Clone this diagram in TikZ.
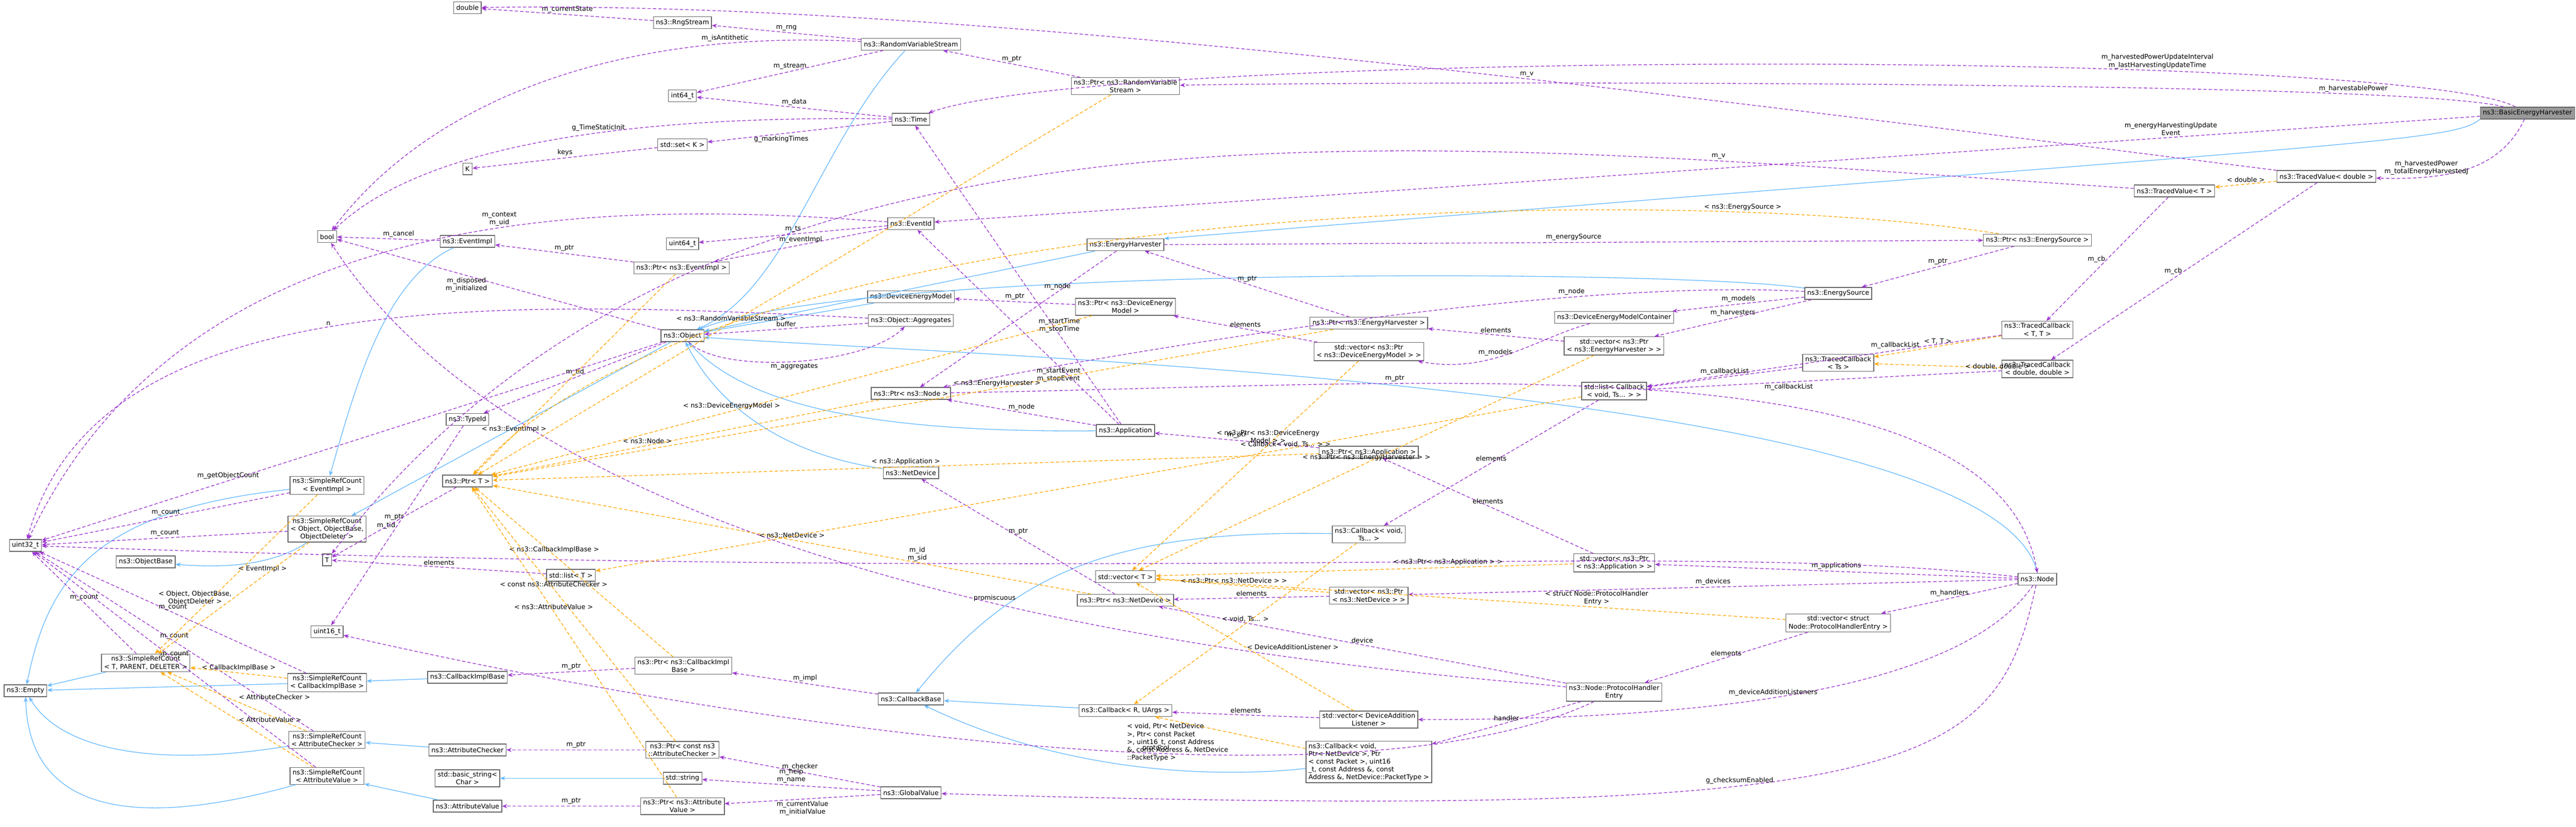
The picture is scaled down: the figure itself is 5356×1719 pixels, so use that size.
\documentclass[tikz,border=0pt]{standalone}
\usepackage{fontspec}
\setmainfont{DejaVu Sans}
\usetikzlibrary{arrows.meta}
\definecolor{usecol}{RGB}{154,50,205}
\definecolor{tplcol}{RGB}{255,165,0}
\definecolor{inhcol}{RGB}{99,184,255}
\tikzset{
  cls/.style={draw=black!60, rectangle, fill=white, inner xsep=1.5pt, inner ysep=1.2pt,
    minimum height=7pt, align=center, font=\fontsize{3.9}{4.6}\selectfont},
  use/.style={draw=usecol, dashed, dash pattern=on 2pt off 1.2pt, thin, -{Stealth[length=3pt,width=2.4pt,fill=usecol]}},
  tpl/.style={draw=tplcol, dashed, dash pattern=on 2pt off 1.2pt, thin, -{Stealth[length=3pt,width=2.4pt,fill=tplcol]}},
  inh/.style={draw=inhcol, thin, -{Stealth[length=3pt,width=2.4pt,fill=inhcol]}},
  lbl/.style={midway, align=center, font=\fontsize{3.9}{4.6}\selectfont, inner sep=1pt}
}
\begin{document}
\begin{tikzpicture}[x=0.01cm,y=-0.01cm]
\useasboundingbox (0,0) rectangle (5356,1719);
% classes
\node[cls, fill=black!40] (beh) at (5255,235) {ns3::BasicEnergyHarvester};
\node[cls] (dbl) at (972,16) {double};
\node[cls] (bool) at (680,492) {bool};
\node[cls] (evimpl) at (972,502) {ns3::EventImpl};
\node[cls] (K) at (972,351) {K};
\node[cls] (typeid) at (972,872) {ns3::TypeId};
\node[cls] (ptrT) at (972,1000) {ns3::Ptr< T >};
\node[cls] (srcEv) at (680,1009) {ns3::SimpleRefCount\\< EventImpl >};
\node[cls] (srcObj) at (680,1100) {ns3::SimpleRefCount\\< Object, ObjectBase,\\ObjectDeleter >};
\node[cls] (uint32) at (53,1134) {uint32\_t};
\node[cls] (objbase) at (303,1168) {ns3::ObjectBase};
\node[cls] (T) at (680,1164) {T};
\node[cls] (listT) at (1187,1196) {std::list< T >};
\node[cls] (uint16) at (680,1313) {uint16\_t};
\node[cls] (srcTPD) at (303,1378) {ns3::SimpleRefCount\\< T, PARENT, DELETER >};
\node[cls] (srcCIB) at (680,1419) {ns3::SimpleRefCount\\< CallbackImplBase >};
\node[cls] (cib) at (972,1408) {ns3::CallbackImplBase};
\node[cls] (empty) at (53,1436) {ns3::Empty};
\node[cls] (srcAC) at (680,1538) {ns3::SimpleRefCount\\< AttributeChecker >};
\node[cls] (ac) at (972,1559) {ns3::AttributeChecker};
\node[cls] (bstr) at (972,1618) {std::basic\_string<\\Char >};
\node[cls] (srcAV) at (680,1613) {ns3::SimpleRefCount\\< AttributeValue >};
\node[cls] (av) at (972,1676) {ns3::AttributeValue};
\node[cls] (rng) at (1419,47) {ns3::RngStream};
\node[cls] (rvs) at (1894,92) {ns3::RandomVariableStream};
\node[cls] (int64) at (1419,199) {int64\_t};
\node[cls] (prvs) at (2340,179) {ns3::Ptr< ns3::RandomVariable\\Stream >};
\node[cls] (time) at (1894,248) {ns3::Time};
\node[cls] (setK) at (1419,301) {std::set< K >};
\node[cls] (evid) at (1894,465) {ns3::EventId};
\node[cls] (uint64) at (1419,507) {uint64\_t};
\node[cls] (pevimpl) at (1417,557) {ns3::Ptr< ns3::EventImpl >};
\node[cls] (eh) at (2340,509) {ns3::EnergyHarvester};
\node[cls] (dem) at (1894,617) {ns3::DeviceEnergyModel};
\node[cls] (pdem) at (2340,638) {ns3::Ptr< ns3::DeviceEnergy\\Model >};
\node[cls] (aggr) at (1894,666) {ns3::Object::Aggregates};
\node[cls] (obj) at (1419,698) {ns3::Object};
\node[cls] (pnode) at (1894,818) {ns3::Ptr< ns3::Node >};
\node[cls] (app) at (2340,895) {ns3::Application};
\node[cls] (netdev) at (1894,983) {ns3::NetDevice};
\node[cls] (vecT) at (2340,1199) {std::vector< T >};
\node[cls] (pnetdev) at (2340,1248) {ns3::Ptr< ns3::NetDevice >};
\node[cls] (pcib) at (1421,1384) {ns3::Ptr< ns3::CallbackImpl\\Base >};
\node[cls] (cbbase) at (1894,1453) {ns3::CallbackBase};
\node[cls] (cbRU) at (2340,1477) {ns3::Callback< R, UArgs >};
\node[cls] (pac) at (1419,1559) {ns3::Ptr< const ns3\\::AttributeChecker >};
\node[cls] (str) at (1419,1618) {std::string};
\node[cls] (gv) at (1894,1648) {ns3::GlobalValue};
\node[cls] (pav) at (1419,1676) {ns3::Ptr< ns3::Attribute\\Value >};
\node[cls] (esrc) at (3822,610) {ns3::EnergySource};
\node[cls] (demc) at (3356,660) {ns3::DeviceEnergyModelContainer};
\node[cls] (peh) at (2846,672) {ns3::Ptr< ns3::EnergyHarvester >};
\node[cls] (veh) at (3356,719) {std::vector< ns3::Ptr\\< ns3::EnergyHarvester > >};
\node[cls] (vdem) at (2846,731) {std::vector< ns3::Ptr\\< ns3::DeviceEnergyModel > >};
\node[cls] (tcTs) at (3822,754) {ns3::TracedCallback\\< Ts >};
\node[cls] (lcb) at (3356,813) {std::list< Callback\\< void, Ts... > >};
\node[cls] (papp) at (2846,940) {ns3::Ptr< ns3::Application >};
\node[cls] (cbvoid) at (2846,1111) {ns3::Callback< void,\\Ts... >};
\node[cls] (vapp) at (3356,1170) {std::vector< ns3::Ptr\\< ns3::Application > >};
\node[cls] (vnd) at (2846,1238) {std::vector< ns3::Ptr\\< ns3::NetDevice > >};
\node[cls] (vphe) at (3822,1295) {std::vector< struct\\Node::ProtocolHandlerEntry >};
\node[cls] (phe) at (3356,1439) {ns3::Node::ProtocolHandler\\Entry};
\node[cls] (vdal) at (2846,1496) {std::vector< DeviceAddition\\Listener >};
\node[cls, align=left] (cbnd) at (2846,1584) {ns3::Callback< void,\\ Ptr< NetDevice >, Ptr\\< const Packet >, uint16\\\_t, const Address \&, const\\ Address \&, NetDevice::PacketType >};
\node[cls] (tvd) at (4837,367) {ns3::TracedValue< double >};
\node[cls] (tvT) at (4521,397) {ns3::TracedValue< T >};
\node[cls] (pes) at (4236,499) {ns3::Ptr< ns3::EnergySource >};
\node[cls] (tcTT) at (4236,686) {ns3::TracedCallback\\< T, T >};
\node[cls] (tcdd) at (4236,767) {ns3::TracedCallback\\< double, double >};
\node[cls] (node) at (4236,1204) {ns3::Node};
% inheritance
\draw[inh] (beh.south west) .. controls (5100,296) and (4900,296) .. (eh.north east);
\draw[inh] (eh) -- (obj);
\draw[inh] (rvs) .. controls (1700,300) and (1640,600) .. (obj);
\draw[inh] (dem) -- (obj);
\draw[inh] (esrc) .. controls (3500,560) and (1800,550) .. (obj);
\draw[inh] (app) .. controls (1800,900) and (1550,840) .. (obj);
\draw[inh] (netdev) .. controls (1600,940) and (1480,820) .. (obj);
\draw[inh] (node.north) .. controls (4150,800) and (2000,740) .. (obj);
\draw[inh] (obj) -- (srcObj);
\draw[inh] (srcObj) .. controls (560,1180) and (450,1180) .. (objbase);
\draw[inh] (evimpl) .. controls (800,580) and (740,800) .. (srcEv);
\draw[inh] (srcEv) .. controls (200,1060) and (100,1200) .. (empty);
\draw[inh] (srcTPD) -- (empty);
\draw[inh] (srcCIB) -- (empty);
\draw[inh] (cib) -- (srcCIB);
\draw[inh] (srcAC) .. controls (300,1600) and (120,1550) .. (empty);
\draw[inh] (ac) -- (srcAC);
\draw[inh] (srcAV) .. controls (300,1720) and (60,1700) .. (empty);
\draw[inh] (av) -- (srcAV);
\draw[inh] (str) -- (bstr);
\draw[inh] (cbvoid) .. controls (2300,1100) and (2100,1200) .. (cbbase);
\draw[inh] (cbRU) -- (cbbase);
\draw[inh] (cbnd) .. controls (2500,1620) and (2200,1600) .. (cbbase);
% usage
\draw[use] (rvs) -- node[lbl, above]{m\_rng} (rng);
\draw[use] (rvs) .. controls (1300,60) and (900,200) .. node[lbl, above, pos=0.2]{m\_isAntithetic} (bool);
\draw[use] (rvs) -- node[lbl, above]{m\_stream} (int64);
\draw[use] (prvs) -- node[lbl, above]{m\_ptr} (rvs);
\draw[use] (beh) .. controls (5000,168) and (3000,168) .. node[lbl, above, pos=0.2]{m\_harvestablePower} (prvs);
\draw[use] (time) -- node[lbl, above]{m\_data} (int64);
\draw[use] (time) -- node[lbl, below, pos=0.6]{g\_markingTimes} (setK);
\draw[use] (time) .. controls (1400,240) and (900,280) .. node[lbl, above, pos=0.45]{g\_TimeStaticInit} (bool);
\draw[use] (setK) -- node[lbl, above]{keys} (K);
\draw[use] (beh) .. controls (5000,102) and (2300,102) .. node[lbl, above, pos=0.3]{m\_harvestedPowerUpdateInterval\\m\_lastHarvestingUpdateTime} (time);
\draw[use] (rng) -- node[lbl, above]{m\_currentState} (dbl);
\draw[use] (tvd) .. controls (3500,200) and (2000,0) .. node[lbl, above, pos=0.4]{m\_v} (dbl);
\draw[use] (tvT) .. controls (3000,300) and (1500,100) .. node[lbl, above, pos=0.2]{m\_v} (T);
\draw[use] (beh) -- node[lbl, above, pos=0.2]{m\_energyHarvestingUpdate\\Event} (evid);
\draw[use] (beh) .. controls (5200,350) and (5100,375) .. node[lbl, left]{m\_harvestedPower\\m\_totalEnergyHarvestedJ} (tvd);
\draw[use] (evid) -- node[lbl, above]{m\_eventImpl} (pevimpl);
\draw[use] (evid) -- node[lbl, above]{m\_ts} (uint64);
\draw[use] (evid) .. controls (1300,420) and (400,400) .. node[lbl, above, pos=0.42]{m\_context\\m\_uid} (uint32);
\draw[use] (pevimpl) -- node[lbl, above]{m\_ptr} (evimpl);
\draw[use] (evimpl) -- node[lbl, above, pos=0.4]{m\_cancel} (bool);
\draw[use] (obj) -- node[lbl, below, pos=0.6]{m\_disposed\\m\_initialized} (bool);
\draw[use] (obj) -- node[lbl, above, pos=0.7]{m\_getObjectCount} (uint32);
\draw[use] (obj) .. controls (1500,780) and (1800,760) .. node[lbl, below]{m\_aggregates} (aggr);
\draw[use] (aggr) -- node[lbl, above]{buffer} (obj);
\draw[use] (aggr) .. controls (1000,620) and (200,600) .. node[lbl, above, pos=0.5]{n} (uint32);
\draw[use] (obj) -- node[lbl, above]{m\_tid} (typeid);
\draw[use] (typeid) -- node[lbl, left]{m\_tid} (uint16);
\draw[use] (ptrT) -- node[lbl, above]{m\_ptr} (T);
\draw[use] (listT) -- node[lbl, above]{elements} (T);
\foreach \src in {srcEv,srcObj,srcTPD,srcCIB,srcAC,srcAV}
  \draw[use] (\src) -- node[lbl, above]{m\_count} (uint32);
\draw[use] (pcib) -- node[lbl, above]{m\_ptr} (cib);
\draw[use] (pac) -- node[lbl, above]{m\_ptr} (ac);
\draw[use] (pav) -- node[lbl, above]{m\_ptr} (av);
\draw[use] (cbbase) -- node[lbl, above]{m\_impl} (pcib);
\draw[use] (gv) -- node[lbl, above]{m\_checker} (pac);
\draw[use] (gv) -- node[lbl, above]{m\_help\\m\_name} (str);
\draw[use] (gv) -- node[lbl, below]{m\_currentValue\\m\_initialValue} (pav);
\draw[use] (node) .. controls (4150,1600) and (4000,1710) .. node[lbl, above, pos=0.6]{g\_checksumEnabled} (gv);
\draw[use] (pnode) .. controls (3000,800) and (4150,700) .. node[lbl, above, pos=0.3]{m\_ptr} (node.north);
\draw[use] (eh) -- node[lbl, above, pos=0.3]{m\_node} (pnode);
\draw[use] (esrc) .. controls (3300,580) and (2500,700) .. node[lbl, above, pos=0.3]{m\_node} (pnode);
\draw[use] (app) -- node[lbl, above]{m\_node} (pnode);
\draw[use] (app) -- node[lbl, above, pos=0.3]{m\_startTime\\m\_stopTime} (time);
\draw[use] (app) -- node[lbl, below, pos=0.3]{m\_startEvent\\m\_stopEvent} (evid);
\draw[use] (eh) -- node[lbl, above]{m\_energySource} (pes);
\draw[use] (pes) -- node[lbl, above]{m\_ptr} (esrc);
\draw[use] (pdem) -- node[lbl, above]{m\_ptr} (dem);
\draw[use] (vdem) -- node[lbl, above]{elements} (pdem);
\draw[use] (demc) .. controls (3200,700) and (3100,780) .. node[lbl, above, pos=0.6]{m\_models} (vdem);
\draw[use] (esrc) -- node[lbl, above]{m\_models} (demc);
\draw[use] (esrc) -- node[lbl, above]{m\_harvesters} (veh);
\draw[use] (veh) -- node[lbl, above]{elements} (peh);
\draw[use] (peh) -- node[lbl, above]{m\_ptr} (eh);
\draw[use] (tcTs) -- node[lbl, above]{m\_callbackList} (lcb);
\draw[use] (tcTT) -- node[lbl, above, pos=0.3]{m\_callbackList} (lcb);
\draw[use] (tcdd) -- node[lbl, below, pos=0.6]{m\_callbackList} (lcb);
\draw[use] (lcb) -- node[lbl, above]{elements} (cbvoid);
\draw[use] (tvT) -- node[lbl, left]{m\_cb} (tcTT);
\draw[use] (tvd) -- node[lbl, left]{m\_cb} (tcdd);
\draw[use] (papp) -- node[lbl, above]{m\_ptr} (app);
\draw[use] (vapp) -- node[lbl, above]{elements} (papp);
\draw[use] (node) -- node[lbl, above]{m\_applications} (vapp);
\draw[use] (node) -- node[lbl, above]{m\_devices} (vnd);
\draw[use] (node) -- node[lbl, above]{m\_handlers} (vphe);
\draw[use] (node) .. controls (4100,1400) and (3700,1496) .. node[lbl, above, pos=0.6]{m\_deviceAdditionListeners} (vdal);
\draw[use] (node) .. controls (3500,1120) and (2500,1220) .. node[lbl, above, pos=0.7]{m\_id\\m\_sid} (uint32);
\draw[use] (vnd) -- node[lbl, above]{elements} (pnetdev);
\draw[use] (pnetdev) -- node[lbl, above]{m\_ptr} (netdev);
\draw[use] (vphe) -- node[lbl, above]{elements} (phe);
\draw[use] (phe) -- node[lbl, above]{device} (pnetdev);
\draw[use] (phe) -- node[lbl, above]{handler} (cbnd);
\draw[use] (phe) .. controls (2800,1700) and (1500,1500) .. node[lbl, above, pos=0.4]{protocol} (uint16);
\draw[use] (phe) .. controls (3000,1400) and (1200,1300) .. node[lbl, above, pos=0.5]{promiscuous} (bool);
\draw[use] (vdal) -- node[lbl, above]{elements} (cbRU);
% templates
\draw[tpl] (pevimpl) -- node[lbl, above, pos=0.8]{< ns3::EventImpl >} (ptrT);
\draw[tpl] (prvs) -- node[lbl, above, pos=0.6]{< ns3::RandomVariableStream >} (ptrT);
\draw[tpl] (pes) .. controls (3500,380) and (1500,400) .. node[lbl, above, pos=0.2]{< ns3::EnergySource >} (ptrT);
\draw[tpl] (pdem) -- node[lbl, above, pos=0.6]{< ns3::DeviceEnergyModel >} (ptrT);
\draw[tpl] (pnode) -- node[lbl, above, pos=0.6]{< ns3::Node >} (ptrT);
\draw[tpl] (peh) -- node[lbl, above, pos=0.4]{< ns3::EnergyHarvester >} (ptrT);
\draw[tpl] (papp) -- node[lbl, above, pos=0.5]{< ns3::Application >} (ptrT);
\draw[tpl] (pnetdev) -- node[lbl, above, pos=0.5]{< ns3::NetDevice >} (ptrT);
\draw[tpl] (pcib) -- node[lbl, above, pos=0.6]{< ns3::CallbackImplBase >} (ptrT);
\draw[tpl] (pac) -- node[lbl, above, pos=0.6]{< const ns3::AttributeChecker >} (ptrT);
\draw[tpl] (pav) -- node[lbl, above, pos=0.6]{< ns3::AttributeValue >} (ptrT);
\draw[tpl] (srcEv) -- node[lbl, above right]{< EventImpl >} (srcTPD);
\draw[tpl] (srcObj) -- node[lbl, left]{< Object, ObjectBase,\\ObjectDeleter >} (srcTPD);
\draw[tpl] (srcCIB) -- node[lbl, above]{< CallbackImplBase >} (srcTPD);
\draw[tpl] (srcAC) -- node[lbl, above right]{< AttributeChecker >} (srcTPD);
\draw[tpl] (srcAV) -- node[lbl, right]{< AttributeValue >} (srcTPD);
\draw[tpl] (lcb) -- node[lbl, above, pos=0.3]{< Callback< void, Ts... > >} (listT);
\draw[tpl] (vdem) -- node[lbl, above, pos=0.4]{< ns3::Ptr< ns3::DeviceEnergy\\Model > >} (vecT);
\draw[tpl] (veh) -- node[lbl, above, pos=0.5]{< ns3::Ptr< ns3::EnergyHarvester > >} (vecT);
\draw[tpl] (vapp) -- node[lbl, above, pos=0.3]{< ns3::Ptr< ns3::Application > >} (vecT);
\draw[tpl] (vnd) -- node[lbl, above, pos=0.55]{< ns3::Ptr< ns3::NetDevice > >} (vecT);
\draw[tpl] (vphe) -- node[lbl, above, pos=0.3]{< struct Node::ProtocolHandler\\Entry >} (vecT);
\draw[tpl] (vdal) -- node[lbl, right, pos=0.5]{< DeviceAdditionListener >} (vecT);
\draw[tpl] (cbvoid) -- node[lbl, above, pos=0.5]{< void, Ts... >} (cbRU);
\draw[tpl] (cbnd) -- node[lbl, below, pos=0.85, align=left]{< void, Ptr< NetDevice\\>, Ptr< const Packet\\>, uint16\_t, const Address\\\&, const Address \&, NetDevice\\::PacketType >} (cbRU);
\draw[tpl] (tvd) -- node[lbl, above]{< double >} (tvT);
\draw[tpl] (tcTT) -- node[lbl, above]{< T, T >} (tcTs);
\draw[tpl] (tcdd) -- node[lbl, right, pos=0.3]{< double, double >} (tcTs);
\end{tikzpicture}
\end{document}
